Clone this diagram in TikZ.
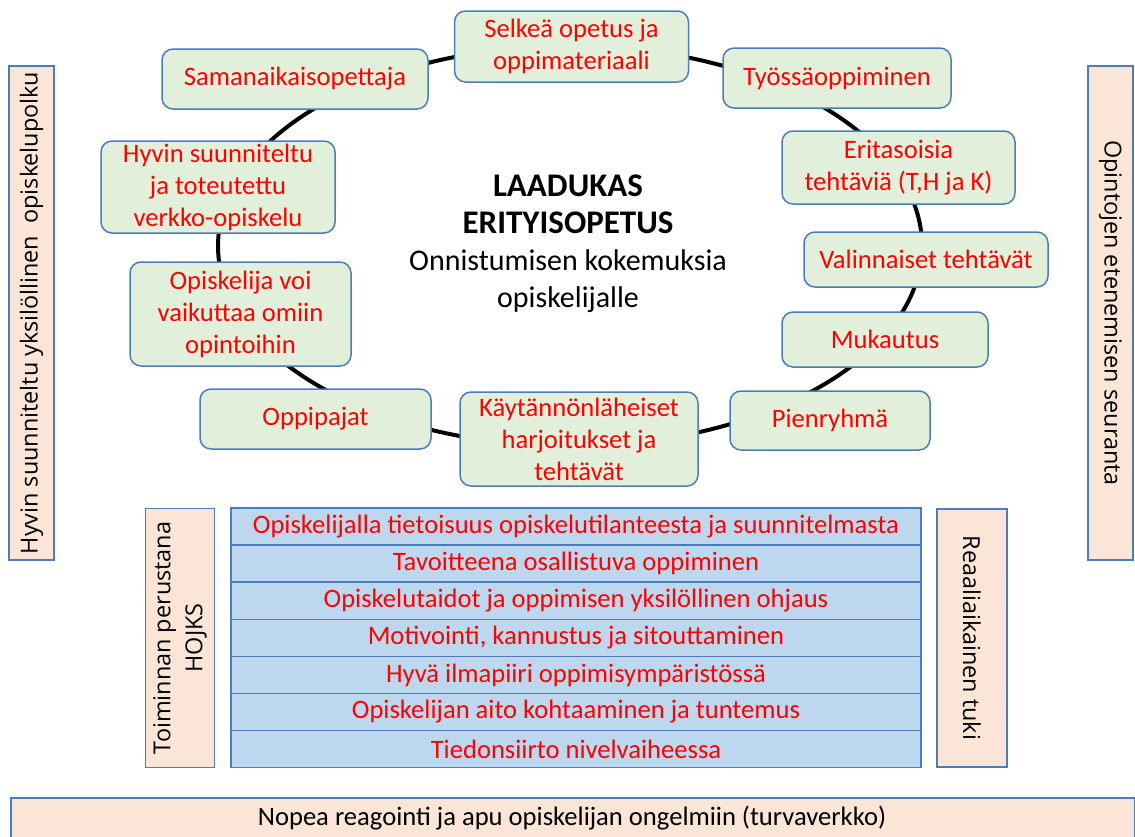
\documentclass[tikz,border=0pt]{standalone}
\usepackage{fontspec}
\setmainfont{Carlito}
\newfontfamily\sidefont{Open Sans}
\usetikzlibrary{shapes.geometric,positioning}
\definecolor{boxgreen}{HTML}{E2EFDA}
\definecolor{boxedge}{HTML}{4A7EBB}
\definecolor{peach}{HTML}{FBE5D6}
\definecolor{rowblue}{HTML}{BDD7EE}
\definecolor{itemred}{HTML}{FF0000}

\begin{document}
\begin{tikzpicture}[
  x=1pt, y=-1pt,
  box/.style={draw=boxedge, fill=boxgreen, line width=1.5pt, rounded corners=11pt,
    align=center, text=itemred, inner sep=0pt, font=\fontsize{26.6}{32}\selectfont},
  side/.style={draw=boxedge, fill=peach, line width=1.5pt, inner sep=0pt,
    align=center, font=\sidefont\fontsize{23.4}{32}\selectfont},
  row/.style={draw=boxedge, fill=rowblue, line width=1.5pt, outer sep=0pt, inner sep=0pt,
    minimum width=690pt, minimum height=37.1pt, text=itemred, font=\fontsize{26.6}{30}\selectfont}
]
\useasboundingbox (0,0) rectangle (1135,836);

% ring behind the boxes
\node[draw, ellipse, line width=4pt, minimum width=704pt, minimum height=400pt] (ring) at (570,246) {};

\node[box, minimum width=234pt, minimum height=71pt] (selkea) at (571.5,46.5) {Selkeä opetus ja\\oppimateriaali};
\node[box, minimum width=266pt, minimum height=60pt] (saman) at (295,79) {Samanaikaisopettaja};
\node[box, minimum width=228pt, minimum height=60pt] (tyossa) at (837,78) {Työssäoppiminen};
\node[box, minimum width=234pt, minimum height=92pt] (verkko) at (218,187) {Hyvin suunniteltu\\ja toteutettu\\verkko-opiskelu};
\node[box, minimum width=233pt, minimum height=73pt] (eritaso) at (898.5,167.5) {Eritasoisia\\tehtäviä (T,H ja K)};
\node[box, minimum width=244pt, minimum height=55pt] (valinn) at (926,259.5) {Valinnaiset tehtävät};
\node[box, minimum width=221pt, minimum height=104pt] (vaikut) at (240.5,314) {Opiskelija voi\\vaikuttaa omiin\\opintoihin};
\node[box, minimum width=206pt, minimum height=55pt] (mukaut) at (885,339.5) {Mukautus};
\node[box, minimum width=231pt, minimum height=60pt] (pajat) at (315.5,419) {Oppipajat};
\node[box, minimum width=238pt, minimum height=94pt] (kaytan) at (579,439) {Käytännönläheiset\\harjoitukset ja\\tehtävät};
\node[box, minimum width=200pt, minimum height=59pt] (pienr) at (830,420.5) {Pienryhmä};

\node[align=center, font=\fontsize{30}{37}\selectfont] (laatu) at (568,244)
  {{\fontsize{33}{37}\selectfont\bfseries LAADUKAS}\\{\fontsize{33}{37}\selectfont\bfseries ERITYISOPETUS}\\Onnistumisen kokemuksia\\opiskelijalle};

\node[side, rotate=90, minimum width=494pt, minimum height=45pt] (polku) at (31.5,313)
  {Hyvin suunniteltu yksilöllinen\ \ opiskelupolku};
\node[side, rotate=-90, minimum width=494pt, minimum height=45pt] (seuranta) at (1110.5,313)
  {Opintojen etenemisen seuranta};

\node[side, rotate=90, minimum width=259pt, minimum height=69pt] (hojks) at (180,638)
  {Toiminnan perustana\\HOJKS};
\node[side, rotate=-90, minimum width=258pt, minimum height=70pt] (tuki) at (972,638)
  {Reaaliaikainen tuki};

\node[row] (rivi1) at (576,526.5) {Opiskelijalla tietoisuus opiskelutilanteesta ja suunnitelmasta};
\node[row, below=0pt of rivi1] (rivi2) {Tavoitteena osallistuva oppiminen};
\node[row, below=0pt of rivi2] (rivi3) {Opiskelutaidot ja oppimisen yksilöllinen ohjaus};
\node[row, below=0pt of rivi3] (rivi4) {Motivointi, kannustus ja sitouttaminen};
\node[row, below=0pt of rivi4] (rivi5) {Hyvä ilmapiiri oppimisympäristössä};
\node[row, below=0pt of rivi5] (rivi6) {Opiskelijan aito kohtaaminen ja tuntemus};
\node[row, below=0pt of rivi6] (rivi7) {Tiedonsiirto nivelvaiheessa};

\node[draw=boxedge, fill=peach, line width=1.5pt, minimum width=1124pt, minimum height=60pt,
  anchor=north west] (turva) at (10,797) {};
\node[font=\fontsize{26.6}{30}\selectfont] (turvateksti) at (572,818)
  {Nopea reagointi ja apu opiskelijan ongelmiin (turvaverkko)};
\end{tikzpicture}
\end{document}
